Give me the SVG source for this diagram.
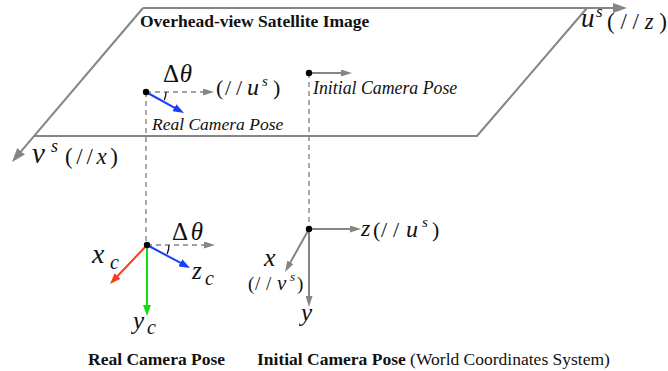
<svg xmlns="http://www.w3.org/2000/svg" width="668" height="371" viewBox="0 0 668 371">
<style>
.ln{fill:none;stroke:#858585;stroke-width:2}
.ax{fill:none;stroke-width:2}
.ds{fill:none;stroke:#858585;stroke-width:1.4;stroke-dasharray:5,4}
.t{font-family:"Liberation Serif","Times New Roman",serif;fill:#111}
.b{font-weight:bold}
.i{font-style:italic}
.m{font-family:"Liberation Serif","Times New Roman",serif;fill:#111}
</style>
<defs>
<marker id="aBig" markerUnits="userSpaceOnUse" markerWidth="14" markerHeight="10" refX="4" refY="5" orient="auto"><path d="M0,0 L14,5 L0,10 z" fill="#858585"/></marker>
<marker id="aGray" markerUnits="userSpaceOnUse" markerWidth="11" markerHeight="7" refX="3" refY="3.5" orient="auto"><path d="M0,0 L11,3.5 L0,7 z" fill="#858585"/></marker>
<marker id="aBlue" markerUnits="userSpaceOnUse" markerWidth="11" markerHeight="8" refX="3" refY="4" orient="auto"><path d="M0,0 L11,4 L0,8 z" fill="#1a3cff"/></marker>
<marker id="aRed" markerUnits="userSpaceOnUse" markerWidth="11" markerHeight="8" refX="3" refY="4" orient="auto"><path d="M0,0 L11,4 L0,8 z" fill="#ff3a1a"/></marker>
<marker id="aGreen" markerUnits="userSpaceOnUse" markerWidth="11" markerHeight="8" refX="3" refY="4" orient="auto"><path d="M0,0 L11,4 L0,8 z" fill="#11dd11"/></marker>
</defs>

<g id="satellite-plane">
<polyline class="ln" points="587,8 477,136 34,136"/>
<line class="ln" x1="143" y1="8" x2="617" y2="8" marker-end="url(#aBig)"/>
<line class="ln" x1="143" y1="8" x2="18.5" y2="154.4" marker-end="url(#aBig)"/>
<text class="t b" x="140" y="27" font-size="17.5">Overhead-view Satellite Image</text>
<text class="m i" x="581" y="27" font-size="27">u</text>
<text class="m i" x="596" y="17" font-size="17">s</text>
<text class="m" x="607" y="29" font-size="23" textLength="60" lengthAdjust="spacing">(//<tspan class="i">z</tspan>)</text>
<text class="m i" x="32" y="163" font-size="29">v</text>
<text class="m i" x="51" y="152" font-size="18">s</text>
<text class="m" x="65" y="164" font-size="23" textLength="53" lengthAdjust="spacing">(//<tspan class="i">x</tspan>)</text>
</g>

<g id="connectors">
<line class="ds" x1="146" y1="92" x2="146" y2="245"/>
<line class="ds" x1="309" y1="73" x2="309" y2="229"/>
</g>

<g id="real-pose-satellite">
<line class="ds" x1="146" y1="92" x2="206" y2="92" marker-end="url(#aGray)"/>
<line class="ax" stroke="#1a3cff" x1="146" y1="92" x2="177" y2="109.1" marker-end="url(#aBlue)"/>
<path d="M166,92 A20,20 0 0 1 164.3,100" fill="none" stroke="#111" stroke-width="1.3"/>
<circle cx="146" cy="92" r="3.2" fill="#000"/>
<text class="m" x="163" y="82" font-size="25" textLength="29" lengthAdjust="spacing">Δ<tspan class="i">θ</tspan></text>
<text class="m" x="216" y="95" font-size="22">(</text>
<text class="m" x="225" y="95" font-size="22">/</text>
<text class="m" x="236" y="95" font-size="22">/</text>
<text class="m i" x="247" y="95" font-size="24">u</text>
<text class="m i" x="262" y="86" font-size="15">s</text>
<text class="m" x="273" y="95" font-size="22">)</text>
<text class="t i" x="152" y="130" font-size="17.5">Real Camera Pose</text>
</g>

<g id="initial-pose-satellite">
<line class="ln" x1="309" y1="73" x2="344" y2="73" marker-end="url(#aGray)"/>
<circle cx="309" cy="73" r="3.2" fill="#000"/>
<text class="t i" x="313" y="94" font-size="17.8">Initial Camera Pose</text>
</g>

<g id="real-camera">
<line class="ds" x1="147" y1="245" x2="207" y2="245" marker-end="url(#aGray)"/>
<line class="ax" stroke="#ff3a1a" x1="147" y1="245" x2="115.5" y2="278.2" marker-end="url(#aRed)"/>
<line class="ax" stroke="#11dd11" x1="147" y1="245" x2="147" y2="308" marker-end="url(#aGreen)"/>
<line class="ax" stroke="#1a3cff" x1="147" y1="245" x2="183" y2="264.2" marker-end="url(#aBlue)"/>
<path d="M169,245 A22,22 0 0 1 167.1,253.9" fill="none" stroke="#111" stroke-width="1.3"/>
<circle cx="147" cy="245" r="3.2" fill="#000"/>
<text class="m" x="172" y="240" font-size="25" textLength="31" lengthAdjust="spacing">Δ<tspan class="i">θ</tspan></text>
<text class="m i" x="92" y="263" font-size="28">x</text>
<text class="m i" x="110" y="269" font-size="20">c</text>
<text class="m i" x="192" y="279" font-size="25">z</text>
<text class="m i" x="205" y="285" font-size="20">c</text>
<text class="m i" x="133" y="329" font-size="25">y</text>
<text class="m i" x="147" y="334" font-size="20">c</text>
<text class="t b" x="88" y="365" font-size="17.5">Real Camera Pose</text>
</g>

<g id="initial-camera">
<line class="ln" x1="309" y1="229" x2="353" y2="229" marker-end="url(#aGray)"/>
<line class="ln" x1="309" y1="229" x2="309" y2="299" marker-end="url(#aGray)"/>
<line class="ln" x1="309" y1="229" x2="288.9" y2="265" marker-end="url(#aGray)"/>
<circle cx="309" cy="229" r="3.2" fill="#000"/>
<text class="m i" x="361" y="236" font-size="24">z</text>
<text class="m" x="373" y="237" font-size="22">(</text>
<text class="m" x="381" y="237" font-size="22">/</text>
<text class="m" x="393" y="237" font-size="22">/</text>
<text class="m i" x="406" y="237" font-size="24">u</text>
<text class="m i" x="422" y="227" font-size="15">s</text>
<text class="m" x="432" y="237" font-size="22">)</text>
<text class="m i" x="264" y="266" font-size="26">x</text>
<text class="m" x="248" y="290" font-size="19">(</text>
<text class="m" x="255" y="290" font-size="19">/</text>
<text class="m" x="266" y="290" font-size="19">/</text>
<text class="m i" x="277" y="290" font-size="21">v</text>
<text class="m i" x="290" y="281" font-size="13">s</text>
<text class="m" x="297" y="290" font-size="19">)</text>
<text class="m i" x="301" y="321" font-size="25">y</text>
<text class="t" x="257" y="365" font-size="17.5"><tspan class="b">Initial Camera Pose</tspan> (World Coordinates System)</text>
</g>
</svg>
